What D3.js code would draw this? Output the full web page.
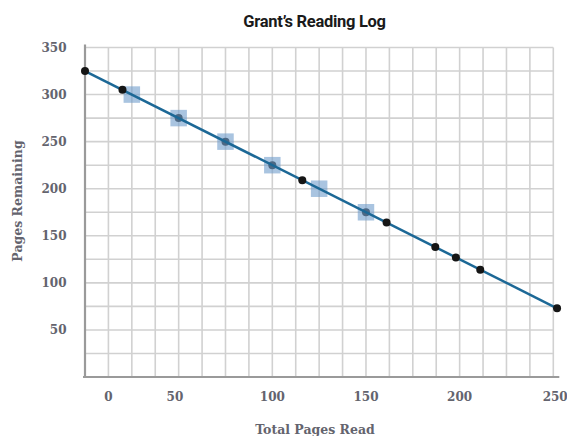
<!DOCTYPE html>
<html>
<head>
<meta charset="utf-8">
<script src="https://cdn.jsdelivr.net/npm/d3@7"></script>
<style>
  html, body { margin: 0; padding: 0; background: #fff; }
  svg { display: block; }
</style>
</head>
<body>
<svg id="chart" width="567" height="436"></svg>
<script>
// ---- Data ----
const title = "Grant\u2019s Reading Log";
const xTitle = "Total Pages Read";
const yTitle = "Pages Remaining";

// Black data points (total pages read, pages remaining)
const pointsX = [0, 20, 50, 75, 100, 116, 150, 161, 187, 198, 211, 252];
const pointsY = [325, 305, 275, 250, 225, 209, 175, 164, 138, 127, 114, 73];

// Highlighted square markers
const squaresX = [25, 50, 75, 100, 125, 150];
const squaresY = [300, 275, 250, 225, 200, 175];

// Trend line end points
const lineX = [0, 252];
const lineY = [325, 73];

// Axis ticks (labels as printed in the reference, at their printed positions)
const xTickPos = [12.5, 48, 100, 150, 200, 251];
const xTickLabels = ["0", "50", "100", "150", "200", "250"];
const yTickValues = [50, 100, 150, 200, 250, 300, 350];
const xGridStep = 12.5;
const yGridStep = 25;

// ---- Layout ----
const svg = d3.select("#chart");
const mLeft = 85, mRight = 553.3, mTop = 47.5, mBottom = 377;

const x = d3.scaleLinear().domain([0, 250]).range([mLeft, mRight]);
const y = d3.scaleLinear().domain([0, 350]).range([mBottom, mTop]);

const xGrid = d3.range(xGridStep, 250 + 0.001, xGridStep);
const yGrid = d3.range(yGridStep, 350 + 0.001, yGridStep);

// Grid
const grid = svg.append("g");
grid.selectAll("line.v").data(xGrid).join("line")
  .attr("x1", d => x(d)).attr("x2", d => x(d))
  .attr("y1", y(350)).attr("y2", y(0))
  .attr("stroke", "#d1d1d1").attr("stroke-width", 1.6);
grid.selectAll("line.h").data(yGrid).join("line")
  .attr("x1", x(0)).attr("x2", x(250))
  .attr("y1", d => y(d)).attr("y2", d => y(d))
  .attr("stroke", "#d1d1d1").attr("stroke-width", 1.6);

// Axes lines
svg.append("line")
  .attr("x1", x(0)).attr("x2", x(0))
  .attr("y1", mTop - 3).attr("y2", mBottom + 1)
  .attr("stroke", "#9a9a9a").attr("stroke-width", 2.2);
svg.append("line")
  .attr("x1", x(0) - 2).attr("x2", mRight + 6)
  .attr("y1", mBottom).attr("y2", mBottom)
  .attr("stroke", "#9a9a9a").attr("stroke-width", 2.2);

// Tick labels
const tickFont = "'DejaVu Serif', serif";
svg.append("g").selectAll("text").data(yTickValues).join("text")
  .attr("x", 66.5).attr("y", d => y(d))
  .attr("dy", "0.36em")
  .attr("text-anchor", "end")
  .attr("font-family", tickFont).attr("font-weight", "bold")
  .attr("font-size", 12).attr("fill", "#64646e")
  .text(d => d);

svg.append("g").selectAll("text").data(xTickPos).join("text")
  .attr("x", d => x(d)).attr("y", 400.5)
  .attr("text-anchor", "middle")
  .attr("font-family", tickFont).attr("font-weight", "bold")
  .attr("font-size", 12).attr("fill", "#64646e")
  .text((d, i) => xTickLabels[i]);

// Axis titles
svg.append("text")
  .attr("x", 315).attr("y", 434)
  .attr("text-anchor", "middle")
  .attr("font-family", tickFont).attr("font-weight", "bold")
  .attr("font-size", 12.5).attr("fill", "#64646e")
  .text(xTitle);

svg.append("text")
  .attr("transform", "translate(22,201) rotate(-90)")
  .attr("text-anchor", "middle")
  .attr("font-family", tickFont).attr("font-weight", "bold")
  .attr("font-size", 12.5).attr("fill", "#64646e")
  .text(yTitle);

// Title
svg.append("text")
  .attr("x", 314.5).attr("y", 27)
  .attr("text-anchor", "middle")
  .attr("font-family", "Roboto, 'Liberation Sans', sans-serif")
  .attr("font-weight", "bold")
  .attr("font-size", 16.5).attr("fill", "#1a1a1a")
  .attr("letter-spacing", "-0.3")
  .text(title);

// Points data
const pts = pointsX.map((v, i) => ({x: v, y: pointsY[i]}));
const sqs = squaresX.map((v, i) => ({x: v, y: squaresY[i]}));
const underSquare = d => squaresX.includes(d.x);

// Dots that sit under squares
svg.append("g").selectAll("circle").data(pts.filter(underSquare)).join("circle")
  .attr("cx", d => x(d.x)).attr("cy", d => y(d.y)).attr("r", 4)
  .attr("fill", "#1a1a1a");

// Squares
const sz = 16.5;
svg.append("g").selectAll("rect").data(sqs).join("rect")
  .attr("x", d => x(d.x) - sz / 2).attr("y", d => y(d.y) - sz / 2)
  .attr("width", sz).attr("height", sz)
  .attr("fill", "#6f9dcb").attr("fill-opacity", 0.6);

// Trend line
svg.append("path")
  .datum(lineX.map((v, i) => [v, lineY[i]]))
  .attr("d", d3.line().x(d => x(d[0])).y(d => y(d[1])))
  .attr("fill", "none").attr("stroke", "#1c6896").attr("stroke-width", 2.5);

// Visible dots
svg.append("g").selectAll("circle").data(pts.filter(d => !underSquare(d))).join("circle")
  .attr("cx", d => x(d.x)).attr("cy", d => y(d.y)).attr("r", 4)
  .attr("fill", "#151515");
</script>
</body>
</html>
